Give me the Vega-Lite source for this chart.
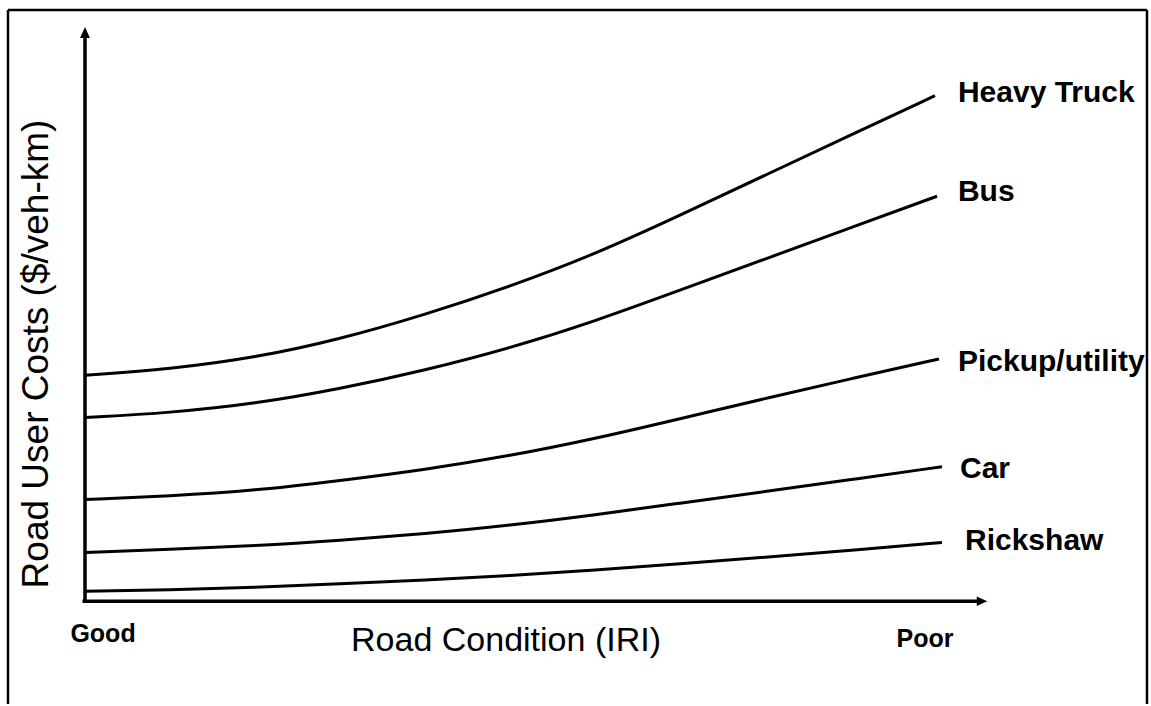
{
  "$schema": "https://vega.github.io/schema/vega-lite/v6.json",
  "width": 1151,
  "height": 706,
  "autosize": {"type": "fit", "contains": "padding"},
  "padding": 0,
  "background": "white",
  "config": {"view": {"stroke": null}, "font": "Liberation Sans"},
  "datasets": {
    "curves": [
      {"vehicle": "Heavy Truck", "iri": 0, "cost": 3.78},
      {"vehicle": "Heavy Truck", "iri": 1, "cost": 3.88},
      {"vehicle": "Heavy Truck", "iri": 2, "cost": 4.07},
      {"vehicle": "Heavy Truck", "iri": 3, "cost": 4.38},
      {"vehicle": "Heavy Truck", "iri": 4, "cost": 4.79},
      {"vehicle": "Heavy Truck", "iri": 5, "cost": 5.26},
      {"vehicle": "Heavy Truck", "iri": 6, "cost": 5.8},
      {"vehicle": "Heavy Truck", "iri": 7, "cost": 6.45},
      {"vehicle": "Heavy Truck", "iri": 8, "cost": 7.12},
      {"vehicle": "Heavy Truck", "iri": 9, "cost": 7.79},
      {"vehicle": "Heavy Truck", "iri": 10, "cost": 8.45},
      {"vehicle": "Bus", "iri": 0, "cost": 3.07},
      {"vehicle": "Bus", "iri": 1, "cost": 3.15},
      {"vehicle": "Bus", "iri": 2, "cost": 3.3},
      {"vehicle": "Bus", "iri": 3, "cost": 3.55},
      {"vehicle": "Bus", "iri": 4, "cost": 3.86},
      {"vehicle": "Bus", "iri": 5, "cost": 4.23},
      {"vehicle": "Bus", "iri": 6, "cost": 4.68},
      {"vehicle": "Bus", "iri": 7, "cost": 5.2},
      {"vehicle": "Bus", "iri": 8, "cost": 5.72},
      {"vehicle": "Bus", "iri": 9, "cost": 6.24},
      {"vehicle": "Bus", "iri": 10.024, "cost": 6.77},
      {"vehicle": "Pickup/utility", "iri": 0, "cost": 1.7},
      {"vehicle": "Pickup/utility", "iri": 1, "cost": 1.758},
      {"vehicle": "Pickup/utility", "iri": 2, "cost": 1.85},
      {"vehicle": "Pickup/utility", "iri": 3, "cost": 2.017},
      {"vehicle": "Pickup/utility", "iri": 4, "cost": 2.2},
      {"vehicle": "Pickup/utility", "iri": 5, "cost": 2.43},
      {"vehicle": "Pickup/utility", "iri": 6, "cost": 2.717},
      {"vehicle": "Pickup/utility", "iri": 7, "cost": 3.05},
      {"vehicle": "Pickup/utility", "iri": 8, "cost": 3.39},
      {"vehicle": "Pickup/utility", "iri": 9, "cost": 3.717},
      {"vehicle": "Pickup/utility", "iri": 10.047, "cost": 4.05},
      {"vehicle": "Car", "iri": 0, "cost": 0.817},
      {"vehicle": "Car", "iri": 1, "cost": 0.867},
      {"vehicle": "Car", "iri": 2, "cost": 0.925},
      {"vehicle": "Car", "iri": 3, "cost": 1.017},
      {"vehicle": "Car", "iri": 4, "cost": 1.13},
      {"vehicle": "Car", "iri": 5, "cost": 1.27},
      {"vehicle": "Car", "iri": 6, "cost": 1.445},
      {"vehicle": "Car", "iri": 7, "cost": 1.64},
      {"vehicle": "Car", "iri": 8, "cost": 1.835},
      {"vehicle": "Car", "iri": 9, "cost": 2.03},
      {"vehicle": "Car", "iri": 10.082, "cost": 2.25},
      {"vehicle": "Rickshaw", "iri": 0, "cost": 0.167},
      {"vehicle": "Rickshaw", "iri": 1, "cost": 0.192},
      {"vehicle": "Rickshaw", "iri": 2, "cost": 0.233},
      {"vehicle": "Rickshaw", "iri": 3, "cost": 0.29},
      {"vehicle": "Rickshaw", "iri": 4, "cost": 0.355},
      {"vehicle": "Rickshaw", "iri": 5, "cost": 0.43},
      {"vehicle": "Rickshaw", "iri": 6, "cost": 0.52},
      {"vehicle": "Rickshaw", "iri": 7, "cost": 0.625},
      {"vehicle": "Rickshaw", "iri": 8, "cost": 0.735},
      {"vehicle": "Rickshaw", "iri": 9, "cost": 0.85},
      {"vehicle": "Rickshaw", "iri": 10.082, "cost": 0.983}
    ],
    "frame": [
      {"part": "top", "x": -0.906, "x2": 12.494, "y": 9.883, "y2": 9.883},
      {"part": "left", "x": -0.906, "x2": -0.906, "y": 9.883, "y2": -1.71667},
      {"part": "right", "x": 12.494, "x2": 12.494, "y": 9.883, "y2": -1.71667}
    ],
    "axes": [
      {"part": "yaxis", "x": 0, "x2": 0, "y": -0.03, "y2": 9.45},
      {"part": "xaxis", "x": -0.03, "x2": 10.5, "y": 0, "y2": 0}
    ],
    "arrowsUp": [{"x": 0, "y": 9.508}],
    "arrowsRight": [{"x": 10.553, "y": 0}],
    "curveLabels": [
      {"text": "Heavy Truck", "x": 10.27, "y": 8.5},
      {"text": "Bus", "x": 10.27, "y": 6.833},
      {"text": "Pickup/utility", "x": 10.27, "y": 4.0},
      {"text": "Car", "x": 10.294, "y": 2.217},
      {"text": "Rickshaw", "x": 10.353, "y": 1.0}
    ],
    "endLabels": [
      {"text": "Good", "x": 0.212, "y": -0.55},
      {"text": "Poor", "x": 9.882, "y": -0.633}
    ],
    "xTitle": [{"text": "Road Condition (IRI)", "x": 4.953, "y": -0.667}],
    "yTitle": [{"text": "Road User Costs ($/veh-km)", "x": -0.565, "y": 4.133}]
  },
  "layer": [
    {
      "data": {"name": "frame"},
      "mark": {"type": "rule", "color": "black", "strokeWidth": 2.5},
      "encoding": {
        "x": {"field": "x", "type": "quantitative", "scale": {"domain": [-1, 12.5412], "nice": false, "zero": false}, "axis": null},
        "x2": {"field": "x2"},
        "y": {"field": "y", "type": "quantitative", "scale": {"domain": [-1.71667, 10.05], "nice": false, "zero": false}, "axis": null},
        "y2": {"field": "y2"}
      }
    },
    {
      "data": {"name": "axes"},
      "mark": {"type": "rule", "color": "black", "strokeWidth": 3.5},
      "encoding": {
        "x": {"field": "x", "type": "quantitative", "axis": null},
        "x2": {"field": "x2"},
        "y": {"field": "y", "type": "quantitative", "axis": null},
        "y2": {"field": "y2"}
      }
    },
    {
      "data": {"name": "arrowsUp"},
      "mark": {"type": "point", "shape": "M0,-1L0.9,1L-0.9,1Z", "filled": true, "color": "black", "opacity": 1, "size": 121},
      "encoding": {
        "x": {"field": "x", "type": "quantitative", "axis": null},
        "y": {"field": "y", "type": "quantitative", "axis": null}
      }
    },
    {
      "data": {"name": "arrowsRight"},
      "mark": {"type": "point", "shape": "M1,0L-1,0.9L-1,-0.9Z", "filled": true, "color": "black", "opacity": 1, "size": 110},
      "encoding": {
        "x": {"field": "x", "type": "quantitative", "axis": null},
        "y": {"field": "y", "type": "quantitative", "axis": null}
      }
    },
    {
      "data": {"name": "curves"},
      "mark": {"type": "line", "color": "black", "strokeWidth": 3, "interpolate": "basis"},
      "encoding": {
        "x": {"field": "iri", "type": "quantitative", "axis": null},
        "y": {"field": "cost", "type": "quantitative", "axis": null},
        "detail": {"field": "vehicle"}
      }
    },
    {
      "data": {"name": "curveLabels"},
      "mark": {"type": "text", "align": "left", "baseline": "middle", "fontWeight": "bold", "fontSize": 30, "color": "black"},
      "encoding": {
        "x": {"field": "x", "type": "quantitative", "axis": null},
        "y": {"field": "y", "type": "quantitative", "axis": null},
        "text": {"field": "text"}
      }
    },
    {
      "data": {"name": "endLabels"},
      "mark": {"type": "text", "align": "center", "baseline": "middle", "fontWeight": "bold", "fontSize": 25, "color": "black"},
      "encoding": {
        "x": {"field": "x", "type": "quantitative", "axis": null},
        "y": {"field": "y", "type": "quantitative", "axis": null},
        "text": {"field": "text"}
      }
    },
    {
      "data": {"name": "xTitle"},
      "mark": {"type": "text", "align": "center", "baseline": "middle", "fontSize": 34, "color": "black"},
      "encoding": {
        "x": {"field": "x", "type": "quantitative", "axis": null},
        "y": {"field": "y", "type": "quantitative", "axis": null},
        "text": {"field": "text"}
      }
    },
    {
      "data": {"name": "yTitle"},
      "mark": {"type": "text", "align": "center", "baseline": "middle", "fontSize": 37, "angle": 270, "color": "black"},
      "encoding": {
        "x": {"field": "x", "type": "quantitative", "axis": null},
        "y": {"field": "y", "type": "quantitative", "axis": null},
        "text": {"field": "text"}
      }
    }
  ]
}
